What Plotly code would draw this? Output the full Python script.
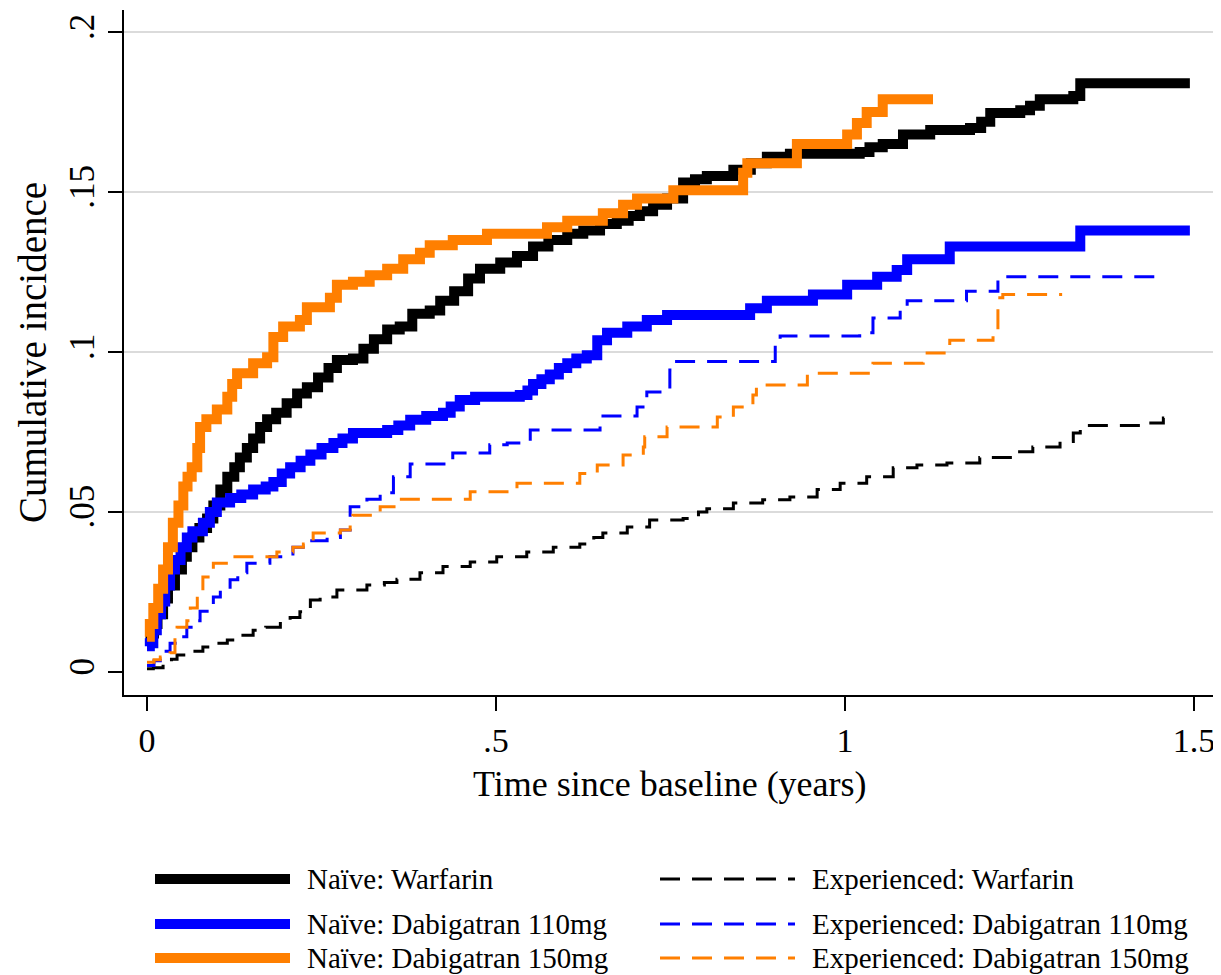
import plotly.graph_objects as go

# ---------------- data ----------------
NAIVE_WARFARIN = [
    (0, 0.010), (0.005, 0.012), (0.01, 0.015), (0.015, 0.018), (0.023, 0.023), (0.03, 0.027),
    (0.04, 0.032), (0.05, 0.036), (0.057, 0.039), (0.065, 0.042), (0.075, 0.045), (0.086, 0.048),
    (0.095, 0.052), (0.105, 0.057), (0.115, 0.061), (0.125, 0.064), (0.133, 0.067), (0.143, 0.070),
    (0.152, 0.073), (0.162, 0.0766), (0.172, 0.079), (0.185, 0.081), (0.2, 0.084), (0.215, 0.087),
    (0.229, 0.089), (0.245, 0.092), (0.26, 0.095), (0.272, 0.0975), (0.295, 0.098), (0.31, 0.101),
    (0.325, 0.104), (0.344, 0.107), (0.362, 0.108), (0.38, 0.112), (0.405, 0.113), (0.42, 0.116),
    (0.44, 0.119), (0.46, 0.123), (0.477, 0.126), (0.506, 0.128), (0.53, 0.130), (0.553, 0.133),
    (0.575, 0.135), (0.602, 0.137), (0.625, 0.138), (0.649, 0.140), (0.673, 0.141), (0.69, 0.1425),
    (0.706, 0.144), (0.725, 0.146), (0.745, 0.148), (0.768, 0.153), (0.785, 0.154), (0.802, 0.155),
    (0.84, 0.157), (0.865, 0.159), (0.888, 0.161), (0.921, 0.162), (1.021, 0.1625), (1.035, 0.164),
    (1.054, 0.165), (1.083, 0.168), (1.122, 0.1694), (1.179, 0.170), (1.195, 0.172), (1.208, 0.1747),
    (1.251, 0.1756), (1.265, 0.177), (1.279, 0.179), (1.327, 0.180), (1.337, 0.184), (1.494, 0.184),
]
NAIVE_DABI110 = [
    (0, 0.008), (0.004, 0.009), (0.009, 0.013), (0.014, 0.018), (0.02, 0.022), (0.026, 0.027),
    (0.033, 0.032), (0.04, 0.035), (0.048, 0.039), (0.057, 0.042), (0.065, 0.044), (0.08, 0.0466),
    (0.09, 0.050), (0.1, 0.053), (0.119, 0.0544), (0.135, 0.0555), (0.152, 0.057), (0.17, 0.058),
    (0.181, 0.0594), (0.193, 0.062), (0.205, 0.064), (0.22, 0.066), (0.234, 0.068), (0.25, 0.070),
    (0.267, 0.0716), (0.28, 0.073), (0.295, 0.0747), (0.344, 0.0756), (0.36, 0.077), (0.377, 0.0788),
    (0.40, 0.080), (0.424, 0.081), (0.435, 0.083), (0.448, 0.085), (0.47, 0.086), (0.534, 0.0866),
    (0.545, 0.088), (0.553, 0.090), (0.565, 0.0915), (0.577, 0.093), (0.59, 0.095), (0.602, 0.0965),
    (0.615, 0.098), (0.630, 0.099), (0.645, 0.1037), (0.659, 0.106), (0.688, 0.108), (0.716, 0.110),
    (0.745, 0.1116), (0.864, 0.1137), (0.888, 0.116), (0.954, 0.118), (1.003, 0.121), (1.046, 0.1235),
    (1.074, 0.1256), (1.089, 0.129), (1.150, 0.133), (1.337, 0.138), (1.494, 0.138),
]
NAIVE_DABI150 = [
    (0, 0.011), (0.004, 0.015), (0.009, 0.020), (0.016, 0.026), (0.023, 0.032), (0.03, 0.039),
    (0.037, 0.0466), (0.045, 0.052), (0.052, 0.058), (0.058, 0.061), (0.064, 0.064), (0.072, 0.070),
    (0.076, 0.0766), (0.085, 0.079), (0.1, 0.082), (0.115, 0.086), (0.122, 0.090), (0.129, 0.0934),
    (0.152, 0.0965), (0.172, 0.0984), (0.181, 0.1047), (0.195, 0.108), (0.219, 0.110), (0.229, 0.114),
    (0.262, 0.117), (0.272, 0.121), (0.295, 0.122), (0.319, 0.124), (0.344, 0.126), (0.367, 0.129),
    (0.391, 0.131), (0.405, 0.1334), (0.438, 0.135), (0.487, 0.137), (0.573, 0.139), (0.602, 0.141),
    (0.653, 0.1434), (0.682, 0.146), (0.702, 0.148), (0.754, 0.1506), (0.854, 0.156), (0.86, 0.159),
    (0.931, 0.165), (1.003, 0.168), (1.017, 0.1716), (1.031, 0.175), (1.054, 0.179), (1.126, 0.179),
]
EXP_WARFARIN = [
    (0, 0.001), (0.009, 0.0013), (0.023, 0.0028), (0.035, 0.004), (0.043, 0.0053), (0.06, 0.0065),
    (0.08, 0.0078), (0.1, 0.009), (0.115, 0.010), (0.135, 0.0115), (0.152, 0.013), (0.17, 0.014),
    (0.191, 0.0156), (0.205, 0.017), (0.219, 0.0188), (0.234, 0.0225), (0.248, 0.0234), (0.272, 0.0256),
    (0.315, 0.0272), (0.34, 0.028), (0.358, 0.029), (0.391, 0.031), (0.424, 0.033), (0.463, 0.0344),
    (0.501, 0.036), (0.544, 0.0375), (0.582, 0.039), (0.620, 0.040), (0.64, 0.042), (0.653, 0.0434),
    (0.688, 0.0453), (0.720, 0.0475), (0.768, 0.048), (0.79, 0.050), (0.802, 0.051), (0.840, 0.0528),
    (0.882, 0.0538), (0.921, 0.0547), (0.960, 0.057), (0.993, 0.059), (1.031, 0.061), (1.069, 0.0638),
    (1.103, 0.0647), (1.146, 0.0653), (1.193, 0.067), (1.241, 0.0688), (1.269, 0.0703), (1.308, 0.072),
    (1.327, 0.0747), (1.337, 0.077), (1.423, 0.0778), (1.456, 0.0794), (1.466, 0.0794),
]
EXP_DABI110 = [
    (0, 0.002), (0.01, 0.0035), (0.019, 0.0047), (0.025, 0.0065), (0.033, 0.009), (0.045, 0.011),
    (0.057, 0.014), (0.066, 0.016), (0.076, 0.019), (0.095, 0.0234), (0.105, 0.026), (0.119, 0.0288),
    (0.13, 0.031), (0.143, 0.034), (0.176, 0.036), (0.209, 0.039), (0.229, 0.041), (0.258, 0.042),
    (0.277, 0.0444), (0.291, 0.0516), (0.315, 0.054), (0.334, 0.056), (0.353, 0.061), (0.377, 0.065),
    (0.438, 0.0684), (0.491, 0.071), (0.516, 0.0716), (0.549, 0.0756), (0.649, 0.080), (0.702, 0.0828),
    (0.716, 0.0875), (0.749, 0.0944), (0.754, 0.097), (0.900, 0.102), (0.907, 0.105), (1.021, 0.106),
    (1.040, 0.1106), (1.079, 0.1137), (1.089, 0.116), (1.174, 0.119), (1.219, 0.1235), (1.451, 0.1235),
]
EXP_DABI150 = [
    (0, 0.003), (0.01, 0.0038), (0.019, 0.0047), (0.033, 0.006), (0.040, 0.011), (0.043, 0.014),
    (0.057, 0.016), (0.062, 0.020), (0.072, 0.0247), (0.080, 0.0297), (0.095, 0.034), (0.123, 0.036),
    (0.186, 0.0375), (0.209, 0.039), (0.224, 0.040), (0.238, 0.0434), (0.277, 0.0444), (0.291, 0.0466),
    (0.295, 0.049), (0.324, 0.0497), (0.334, 0.0516), (0.362, 0.054), (0.463, 0.0563), (0.530, 0.059),
    (0.620, 0.062), (0.645, 0.0647), (0.682, 0.0678), (0.711, 0.0703), (0.713, 0.0735), (0.745, 0.0766),
    (0.817, 0.0797), (0.840, 0.0828), (0.868, 0.0866), (0.873, 0.0897), (0.946, 0.0934), (1.040, 0.0965),
    (1.112, 0.0997), (1.150, 0.1037), (1.212, 0.106), (1.219, 0.117), (1.226, 0.118), (1.311, 0.118),
]

X_TICKS = [0, 0.5, 1, 1.5]
X_TICK_LABELS = ["0", ".5", "1", "1.5"]
Y_TICKS = [0, 0.05, 0.1, 0.15, 0.2]
Y_TICK_LABELS = ["0", ".05", ".1", ".15", ".2"]
GRID_VALUES = [0.05, 0.1, 0.15, 0.2]
X_TITLE = "Time since baseline (years)"
Y_TITLE = "Cumulative incidence"

SERIES_NAMES = [
    "Naïve: Warfarin", "Naïve: Dabigatran 110mg", "Naïve: Dabigatran 150mg",
    "Experienced: Warfarin", "Experienced: Dabigatran 110mg", "Experienced: Dabigatran 150mg",
]
SERIES_DATA = [NAIVE_WARFARIN, NAIVE_DABI110, NAIVE_DABI150, EXP_WARFARIN, EXP_DABI110, EXP_DABI150]

# ---------------- styles ----------------
BLACK, BLUE, ORANGE = "#000000", "#0000FF", "#FF7F00"
COLORS = [BLACK, BLUE, ORANGE, BLACK, BLUE, ORANGE]
THICK, THIN = 10, 3
DASH = "20px,12px"
WIDTHS = [THICK, THICK, THICK, THIN, THIN, THIN]
DASHES = ["solid", "solid", "solid", DASH, DASH, DASH]
FONT = "Liberation Serif"

PAGE_OFF = 8                     # default body margin of the page
W, H = 1221 - PAGE_OFF, 975 - PAGE_OFF
ML, MT = 124 - PAGE_OFF, 10 - PAGE_OFF
MR = W - (1215 - PAGE_OFF)
MB = H - (695 - PAGE_OFF)

fig = go.Figure()
for name, data, col, w, d in zip(SERIES_NAMES, SERIES_DATA, COLORS, WIDTHS, DASHES):
    fig.add_trace(go.Scatter(
        x=[p[0] for p in data], y=[p[1] for p in data], name=name, mode="lines",
        line=dict(color=col, width=w, dash=d, shape="hv"), showlegend=False,
    ))

shapes = []
for g in GRID_VALUES:
    shapes.append(dict(type="line", xref="paper", yref="y", x0=0, x1=1, y0=g, y1=g,
                       line=dict(color="#cfcfcf", width=1.5), layer="below"))

# positions given in page pixels, converted to paper units
PW, PH = W - ML - MR, H - MT - MB
def px(xp):
    return (xp - PAGE_OFF - ML) / PW
def py(yp):
    return (H - MB - (yp - PAGE_OFF)) / PH

annotations = [dict(xref="paper", yref="paper", x=px(670), y=py(784), text=X_TITLE,
                    showarrow=False, xanchor="center", yanchor="middle",
                    font=dict(family=FONT, size=36, color="black"))]

# manual legend (long line samples as in the reference)
ROW_Y = [879, 924, 958]
COL_SAMPLE = [(155, 290), (660, 795)]
COL_TEXT = [305, 810]
for i, (name, col, w, d) in enumerate(zip(SERIES_NAMES, COLORS, WIDTHS, DASHES)):
    c, r = divmod(i, 3)
    x0, x1 = COL_SAMPLE[c]
    shapes.append(dict(type="line", xref="paper", yref="paper", x0=px(x0), x1=px(x1),
                       y0=py(ROW_Y[r]), y1=py(ROW_Y[r]),
                       line=dict(color=col, width=w, dash=d)))
    annotations.append(dict(xref="paper", yref="paper", x=px(COL_TEXT[c]), y=py(ROW_Y[r]),
                            text=name, showarrow=False, xanchor="left", yanchor="middle",
                            font=dict(family=FONT, size=29, color="black")))

fig.update_layout(
    width=W, height=H, margin=dict(l=ML, r=MR, t=MT, b=MB),
    plot_bgcolor="white", paper_bgcolor="white",
    font=dict(family=FONT, color="black"), showlegend=False,
    shapes=shapes, annotations=annotations,
    xaxis=dict(range=[-0.033, 1.530], showline=True, linecolor="black", linewidth=2,
               ticks="outside", ticklen=14, tickwidth=1.5, tickcolor="black",
               tickvals=X_TICKS, ticktext=X_TICK_LABELS, tickfont=dict(size=34),
               showgrid=False, zeroline=False),
    yaxis=dict(range=[-0.0072, 0.2069], showline=True, linecolor="black", linewidth=2,
               ticks="outside", ticklen=14, tickwidth=1.5, tickcolor="black", tickangle=-90,
               tickvals=Y_TICKS, ticktext=Y_TICK_LABELS, tickfont=dict(size=35),
               showgrid=False, zeroline=False,
               title=dict(text=Y_TITLE, font=dict(size=39), standoff=4)),
)

fig.write_html("out.html")
